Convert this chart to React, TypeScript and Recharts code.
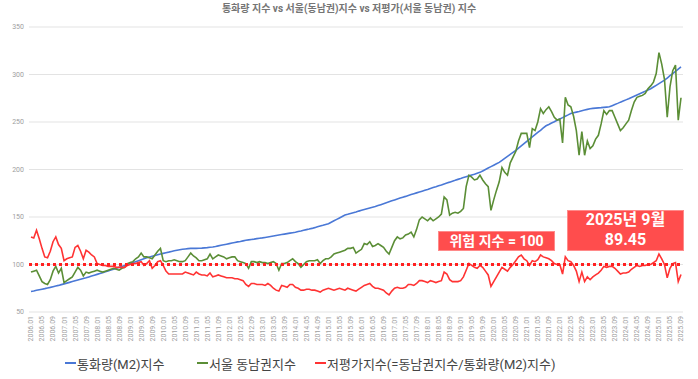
import React from 'react';
import { LineChart, Line, XAxis, YAxis, CartesianGrid, ReferenceLine } from 'recharts';

// Monthly categories 2006.01 – 2025.09
const categories: string[] = [];
for (let y = 2006; y <= 2025; y++) {
  for (let m = 1; m <= 12; m++) {
    if (y === 2025 && m > 9) break;
    categories.push(`${y}.${String(m).padStart(2, '0')}`);
  }
}

const yTicks = [50, 100, 150, 200, 250, 300, 350];

// 통화량(M2)지수
const m2Index = [
  71.5, 72.1, 72.8, 73.4, 74.0, 74.6, 75.3, 75.9, 76.6, 77.3, 78.0, 78.8,
  79.6, 80.4, 81.2, 82.0, 82.8, 83.6, 84.4, 85.2, 86.0, 86.9, 87.8, 88.7,
  89.6, 90.5, 91.4, 92.3, 93.2, 94.1, 95.0, 96.0, 97.0, 98.0, 99.0, 100.0,
  101.0, 102.0, 103.0, 104.0, 105.0, 106.0, 107.0, 107.8, 108.6, 109.4, 110.2, 111.0,
  111.7, 112.4, 113.0, 113.7, 114.4, 115.0, 115.5, 116.0, 116.4, 116.7, 117.0, 117.0,
  117.0, 117.1, 117.2, 117.5, 117.8, 118.2, 118.5, 119.0, 119.6, 120.2, 120.8, 121.4,
  122.0, 122.6, 123.2, 123.8, 124.3, 124.9, 125.5, 125.9, 126.3, 126.7, 127.2, 127.6,
  128.0, 128.5, 129.0, 129.5, 130.0, 130.5, 131.0, 131.5, 132.0, 132.5, 133.0, 133.5,
  134.0, 134.7, 135.3, 136.0, 136.7, 137.3, 138.0, 138.8, 139.7, 140.5, 141.3, 142.2,
  143.0, 144.5, 146.0, 147.5, 149.0, 150.5, 152.0, 152.8, 153.7, 154.5, 155.3, 156.2,
  157.0, 157.8, 158.6, 159.4, 160.2, 161.0, 162.0, 163.0, 164.0, 165.0, 166.0, 167.0,
  168.0, 169.0, 169.9, 170.8, 171.7, 172.7, 173.6, 174.5, 175.4, 176.3, 177.2, 178.1,
  179.0, 180.0, 181.0, 181.9, 182.9, 183.8, 184.8, 185.8, 186.7, 187.7, 188.6, 189.6,
  190.5, 191.5, 192.4, 193.3, 194.2, 195.1, 196.1, 197.0, 198.5, 200.0, 201.5, 203.0,
  204.5, 206.0, 207.5, 209.6, 211.8, 213.9, 216.0, 218.0, 220.0, 222.4, 224.8, 227.2,
  229.6, 232.0, 234.3, 236.7, 239.0, 241.3, 243.7, 246.0, 247.4, 248.9, 250.3, 251.8,
  253.2, 254.6, 256.1, 257.5, 259.0, 259.7, 260.4, 261.1, 261.9, 262.6, 263.3, 264.0,
  264.3, 264.6, 264.9, 265.1, 265.4, 265.7, 266.0, 267.2, 268.4, 269.6, 270.9, 272.1,
  273.3, 274.5, 275.8, 277.1, 278.4, 279.7, 281.0, 282.3, 283.7, 285.0, 286.8, 288.6,
  290.4, 292.2, 294.0, 296.3, 298.7, 301.0, 303.3, 305.7, 308.0,
];

// 서울 동남권지수
const seoulIndex = [
  92, 93, 94, 88, 82, 80, 79, 84, 93, 98, 91, 96,
  81, 83, 85, 87, 92, 97, 94, 88, 92, 91, 92, 93,
  94, 93, 92, 93, 94, 95, 96, 95, 94, 96, 97, 101,
  102, 103, 106, 108, 112, 108, 108, 107, 106, 110, 114, 117,
  104, 103, 104, 104, 105, 104, 103, 103, 104, 108, 112, 109,
  107, 104, 104, 105, 106, 111, 106, 108, 110, 109, 108, 106,
  107, 108, 108, 104, 103, 102, 101, 96, 103, 103, 102, 103,
  102, 102, 101, 102, 103, 101, 94, 101, 101, 102, 104, 106,
  103, 101, 97, 100, 103, 104, 104, 104, 105, 101, 104, 106,
  106, 108, 111, 112, 113, 114, 115, 117, 117, 118, 112, 114,
  116, 122, 121, 124, 119, 120, 122, 120, 118, 114, 111, 118,
  125, 129, 127, 128, 131, 132, 134, 129, 137, 147, 150, 148,
  146, 149, 146, 148, 150, 153, 171, 168, 152, 154, 155, 154,
  156, 159, 182, 194, 192, 189, 190, 194, 189, 185, 182, 157,
  168, 178, 187, 202, 197, 194, 207, 213, 219, 230, 238, 238,
  238, 223, 243, 241, 250, 264, 259, 263, 266, 261, 255, 252,
  253, 228, 276, 268, 266, 256, 241, 215, 240, 215, 230, 222,
  225, 232, 236, 248, 262, 258, 262, 262, 255, 248, 241, 244,
  248, 252, 262, 271, 276, 277, 278, 280, 285, 288, 292, 301,
  323, 311, 295, 255, 287, 304, 310, 252, 275.5,
];

// 저평가지수(=동남권지수/통화량(M2)지수)
const undervaluedIndex = [
  129, 128, 136, 127, 117, 108, 107, 114, 124, 129, 121, 117,
  104, 106, 107, 108, 118, 120, 114, 106, 115, 113, 110, 108,
  101, 100, 99, 99, 98, 98, 98, 97, 97, 97, 97, 99,
  100, 101, 101, 102, 103, 99, 101, 104, 96, 99, 103, 104,
  99, 93, 90, 90, 90, 90, 90, 90, 92, 91, 90, 89,
  92, 90, 89, 89, 88, 91, 87, 88, 89, 88, 87, 86,
  86, 86, 85, 85, 84, 83, 79, 77, 80, 80, 79, 79,
  79, 78, 80, 78, 75, 73, 72, 78, 77, 76, 79, 79,
  76, 75, 73, 73, 74, 74, 73, 73, 72, 71, 73, 74,
  75, 74, 73, 74, 75, 74, 73, 75, 74, 73, 72, 74,
  76, 78, 79, 80, 77, 75, 75, 74, 73, 70, 68, 72,
  75, 76, 75, 75, 76, 79, 79, 78, 80, 83, 83, 82,
  81, 83, 82, 81, 82, 83, 92, 90, 84, 82, 82, 82,
  83, 87, 94, 101, 99, 97, 96, 99, 97, 93, 89, 77,
  82, 87, 92, 97, 95, 93, 97, 100, 104, 108, 110, 106,
  104, 99, 104, 103, 105, 110, 108, 107, 106, 104, 101, 100,
  100, 90, 108, 104, 103, 99, 93, 82, 92, 82, 87, 84,
  87, 89, 91, 94, 98, 97, 98, 98, 96, 93, 90, 91,
  91, 92, 95, 97, 99, 98, 99, 99, 100, 100, 102, 104,
  111, 106, 100, 86, 96, 101, 102, 82, 89.45,
];

const data = categories.map((c, i) => ({
  month: c,
  m2: m2Index[i],
  seoul: seoulIndex[i],
  under: undervaluedIndex[i],
}));

const FONT = "Roboto, 'Noto Sans CJK KR', 'Noto Sans', sans-serif";
const BLUE = '#4a78d6';
const GREEN = '#5b8e36';
const RED = '#ff3333';

const XTick = (props: any) => {
  const { x, y, payload } = props;
  return (
    <g transform={`translate(${x},${y})`}>
      <text transform="rotate(-90)" x={0} y={0} dy="0.35em" textAnchor="end" fontSize={7} fill="#9e9e9e" fontFamily={FONT}>
        {payload.value}
      </text>
    </g>
  );
};

const legendItems = [
  { label: '통화량(M2)지수', color: BLUE, left: 65 },
  { label: '서울 동남권지수', color: GREEN, left: 197 },
  { label: '저평가지수(=동남권지수/통화량(M2)지수)', color: RED, left: 315 },
];

export default function App() {
  return (
    <div style={{ position: 'absolute', left: 0, top: 0, width: 698, height: 379, background: '#fff', fontFamily: FONT }}>
      <div style={{ position: 'absolute', top: 2, left: 0, width: 698, textAlign: 'center', fontSize: 10, fontWeight: 'bold', color: '#757575', lineHeight: '14px' }}>
        통화량 지수 vs 서울(동남권)지수 vs 저평가(서울 동남권) 지수
      </div>
      <LineChart width={698} height={379} data={data} margin={{ top: 27, right: 15, bottom: 30, left: 0 }}>
        <CartesianGrid vertical={false} stroke="#e3e3e3" />
        <XAxis
          dataKey="month"
          interval={3}
          tick={<XTick />}
          tickSize={0}
          tickMargin={4}
          axisLine={false}
          height={37}
          padding={{ left: 2, right: 2 }}
        />
        <YAxis
          domain={[50, 350]}
          ticks={yTicks}
          width={29}
          tickSize={0}
          tickMargin={5}
          axisLine={false}
          tick={{ fontSize: 7, fill: '#9e9e9e', fontFamily: FONT }}
        />
        <Line type="linear" dataKey="m2" stroke={BLUE} strokeWidth={1.6} dot={false} isAnimationActive={false} />
        <Line type="linear" dataKey="seoul" stroke={GREEN} strokeWidth={1.6} dot={false} isAnimationActive={false} />
        <Line type="linear" dataKey="under" stroke={RED} strokeWidth={1.6} dot={false} isAnimationActive={false} />
        <ReferenceLine y={100} stroke="#ff2020" strokeWidth={3} strokeDasharray="3 3" />
      </LineChart>
      {legendItems.map((it) => (
        <div key={it.label} style={{ position: 'absolute', top: 355, left: it.left, display: 'flex', alignItems: 'center', height: 16, fontSize: 13, color: '#444' }}>
          <span style={{ display: 'inline-block', width: 11, height: 2, background: it.color, marginRight: 1 }} />
          <span>{it.label}</span>
        </div>
      ))}
      <div style={{ position: 'absolute', left: 438, top: 231, width: 117, height: 20, background: '#ff4d4d', color: '#fff', fontSize: 14, fontWeight: 'bold', lineHeight: '20px', textAlign: 'center', boxShadow: 'inset 0 0 0 1px #ff8a8a' }}>
        위험 지수 = 100
      </div>
      <div style={{ position: 'absolute', left: 567, top: 210, width: 117, height: 41, background: '#ff4d4d', color: '#fff', fontSize: 16, fontWeight: 'bold', lineHeight: '20px', textAlign: 'center', boxShadow: 'inset 0 0 0 1px #ff8a8a' }}>
        <div>2025년 9월</div>
        <div>89.45</div>
      </div>
    </div>
  );
}
